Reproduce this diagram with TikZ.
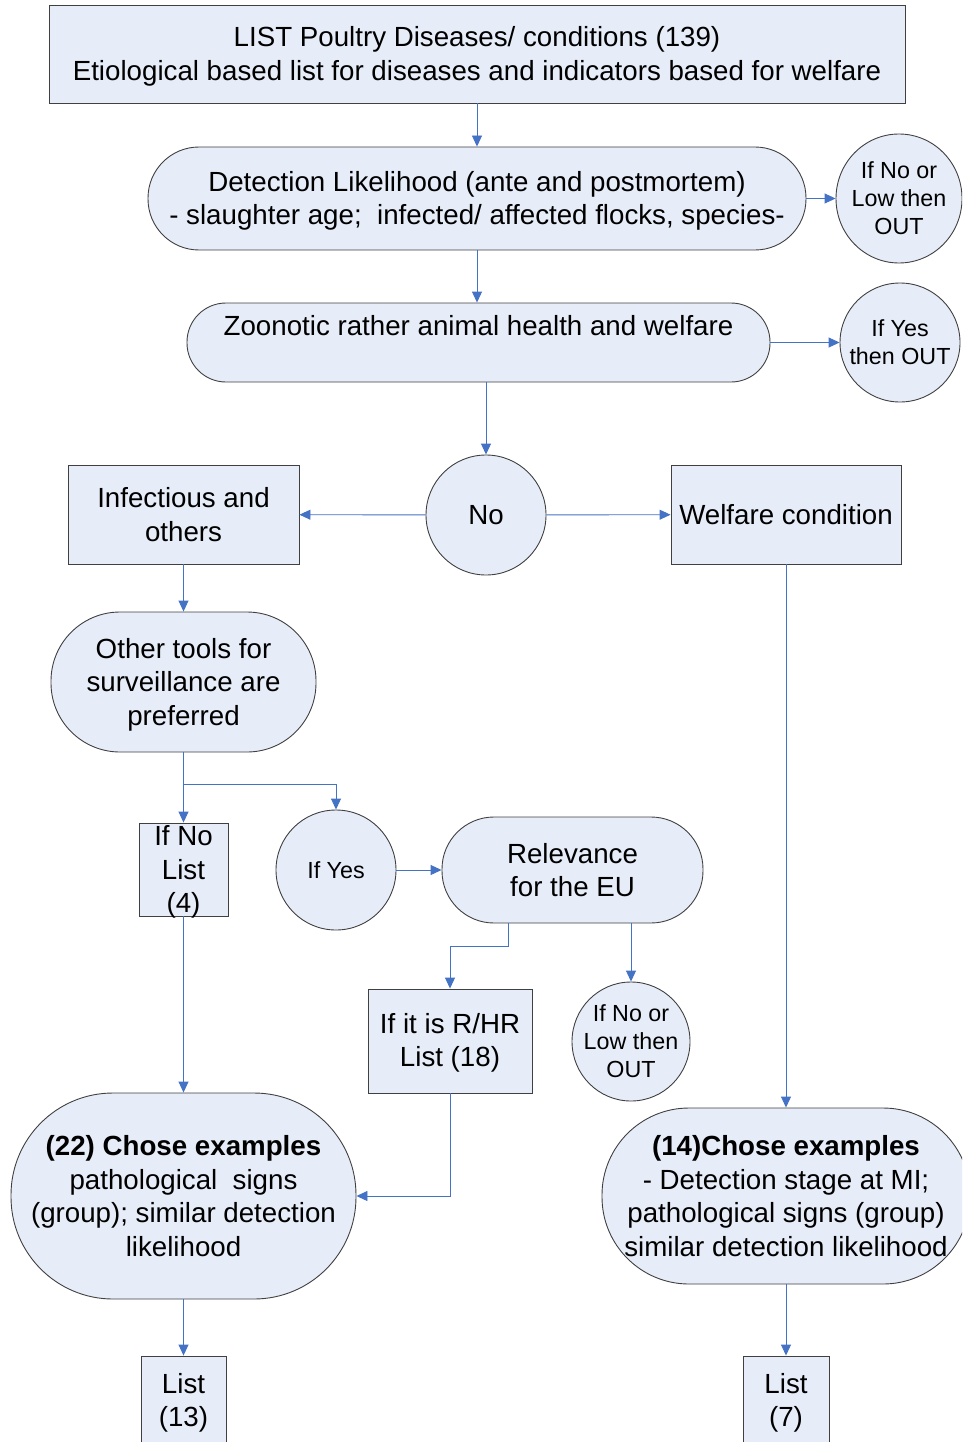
\documentclass[tikz,border=0pt]{standalone}
\usepackage{fontspec}
\setmainfont{Liberation Sans}
\usetikzlibrary{arrows.meta,shapes.geometric}
\definecolor{fillc}{RGB}{231,237,248}
\definecolor{linec}{RGB}{64,64,64}
\definecolor{arrc}{RGB}{68,114,196}
\newcommand\mybigfont{\fontsize{27.7}{33.5}\selectfont}
\newcommand\mysmallfont{\fontsize{23.3}{28}\selectfont}
\begin{document}
\begin{tikzpicture}[x=1pt,y=-1pt,
  base/.style={draw=linec,fill=fillc,line width=0.9pt,inner sep=0pt,align=center,font=\mybigfont},
  boxn/.style={base,rectangle},
  pill/.style={base,rectangle,rounded corners=#1},
  ell/.style={base,ellipse},
  arr/.style={draw=arrc,line width=0.9pt,-{Triangle[length=11pt,width=10pt]}},
  tx/.style={font=\mybigfont,align=center,inner sep=0pt},
  lab/.style={font=\mysmallfont,align=center,inner sep=0pt}]
\useasboundingbox (0,0) rectangle (962,1442);
\clip (0,0) rectangle (962,1442);

\node[boxn,minimum width=856,minimum height=98] (top) at (477,54) {};
\node[tx] (topT) at ([yshift=-2.2pt]top.center)
  {LIST Poultry Diseases/ conditions (139)\\Etiological based list for diseases and indicators based for welfare};
\node[pill=51,minimum width=658,minimum height=103] (det) at (477,198.5) {};
\node[tx] (detT) at ([yshift=-2.5pt]det.center)
  {Detection Likelihood (ante and postmortem)\\- slaughter age;\ \ infected/ affected flocks, species-};
\node[ell,minimum width=126,minimum height=129,label={[lab]center:If No or\\Low then\\OUT}] (out1) at (899,198.5) {};
\node[pill=39,minimum width=583,minimum height=79] (zoo) at (478.5,342.5)
  {Zoonotic rather animal health and welfare\\\mbox{}};
\node[ell,minimum width=120,minimum height=119,label={[lab]center:If Yes\\then OUT}] (out2) at (900,342.5) {};
\node[ell,minimum width=120,minimum height=120] (no) at (486,515) {No};
\node[boxn,minimum width=231,minimum height=99] (inf) at (183.5,514.5) {Infectious and\\others};
\node[boxn,minimum width=230,minimum height=99] (wel) at (786,514.5) {Welfare condition};
\node[pill=69,minimum width=265,minimum height=140] (oth) at (183.5,682) {};
\node[tx] (othT) at ([yshift=-2.5pt]oth.center) {Other tools for\\surveillance are\\preferred};
\node[boxn,minimum width=89,minimum height=93] (ifno) at (183.5,869.5) {};
\node[tx] (ifnoT) at ([yshift=-2.5pt]ifno.center) {If No\\List\\(4)};
\node[ell,minimum width=120,minimum height=120,label={[lab]center:If Yes}] (ifyes) at (336,870) {};
\node[pill=52,minimum width=261,minimum height=106] (rel) at (572.5,870) {Relevance\\for the EU};
\node[boxn,minimum width=164,minimum height=104] (rhr) at (450,1041) {};
\node[tx] (rhrT) at ([yshift=-2pt]rhr.center) {If it is R/HR\\List (18)};
\node[ell,minimum width=118,minimum height=119,label={[lab]center:If No or\\Low then\\OUT}] (out3) at (631,1041.5) {};
\node[pill=102,minimum width=345,minimum height=206] (ch22) at (183.5,1196)
  {\textbf{(22) Chose examples}\\pathological\ \ signs\\(group); similar detection\\likelihood};
\node[pill=87,minimum width=368,minimum height=176] (ch14) at (786,1196)
  {\textbf{(14)Chose examples}\\- Detection stage at MI;\\pathological signs (group)\\similar detection likelihood};
\node[boxn,minimum width=85,minimum height=88] (l13) at (183.5,1400) {};
\node[tx] (l13T) at ([yshift=-3pt]l13.center) {List\\(13)};
\node[boxn,minimum width=86,minimum height=88] (l7) at (786,1400) {};
\node[tx] (l7T) at ([yshift=-3pt]l7.center) {List\\(7)};

\draw[arr] (top) -- (det);
\draw[arr] (det.south) -- (det.south |- zoo.north);
\draw[arr] (det) -- (out1);
\draw[arr] (zoo) -- (out2);
\draw[arr] (no.north |- zoo.south) -- (no);
\draw[arr] (no) -- (inf);
\draw[arr] (no) -- (wel);
\draw[arr] (inf) -- (oth);
\draw[arr] (oth) -- (ifno);
\draw[arr] (oth.south) -- ++(0,32) -| (ifyes.north);
\draw[arr] (ifyes) -- (rel);
\draw[arr] ([xshift=-64.5pt]rel.south) -- ++(0,23) -| (rhr.north);
\draw[arr] (out3.north |- rel.south) -- (out3);
\draw[arr] (ifno) -- (ch22);
\draw[arr] (rhr.south) |- (ch22.east);
\draw[arr] (wel) -- (ch14);
\draw[arr] (ch22) -- (l13);
\draw[arr] (ch14) -- (l7);
\end{tikzpicture}
\end{document}
